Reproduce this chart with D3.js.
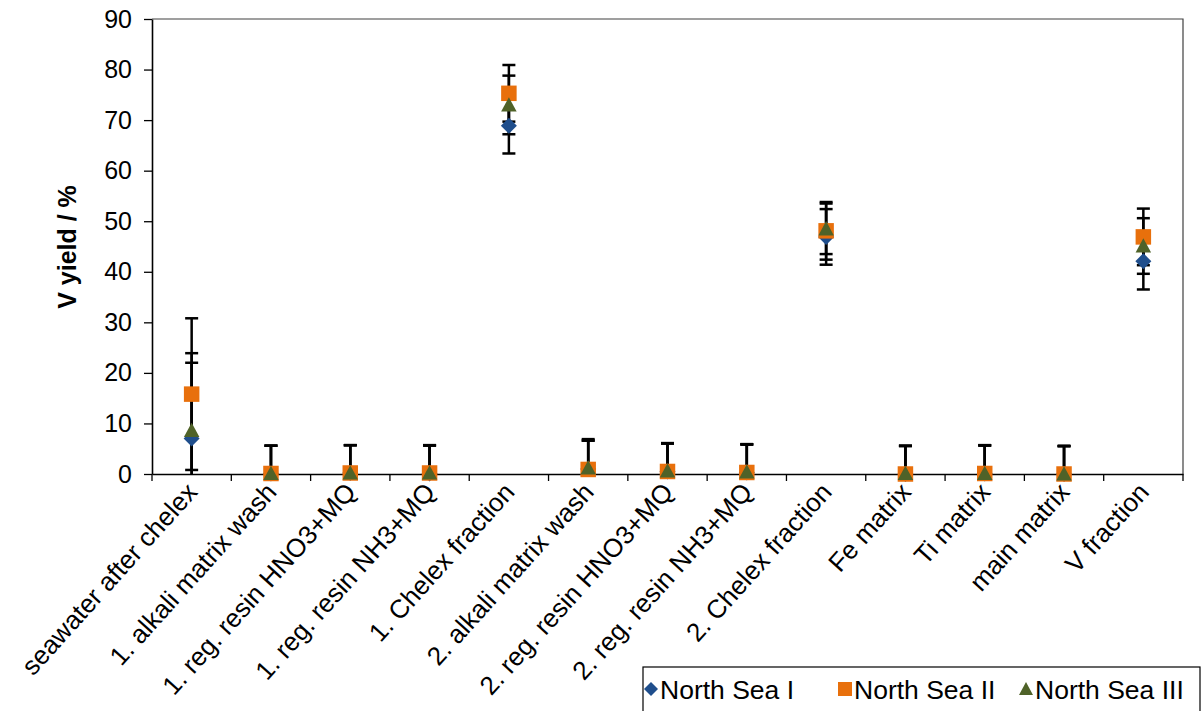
<!DOCTYPE html>
<html><head><meta charset="utf-8">
<script src="https://cdn.jsdelivr.net/npm/d3@7"></script>
<style>
html,body{margin:0;padding:0;background:#fff;}
svg{display:block;font-family:"Liberation Sans",Arial,sans-serif;}
</style></head>
<body>
<svg id="chart" width="1203" height="711"></svg>
<script>
const categories = ["seawater after chelex","1. alkali matrix wash","1. reg. resin HNO3+MQ","1. reg. resin NH3+MQ","1. Chelex fraction","2. alkali matrix wash","2. reg. resin HNO3+MQ","2. reg. resin NH3+MQ","2. Chelex fraction","Fe matrix","Ti matrix","main matrix","V fraction"];
const seriesNames = ["North Sea I","North Sea II","North Sea III"];
const northSeaI   = [7.0, 0.1, 0.2, 0.1, 68.9, 1.0, 0.5, 0.3, 46.9, 0.0, 0.1, 0.0, 42.1];
const northSeaIErr= [15.0, 5.5, 5.5, 5.5, 5.5, 5.6, 5.5, 5.5, 5.5, 5.5, 5.5, 5.5, 5.6];
const northSeaII  = [15.8, 0.1, 0.2, 0.2, 75.3, 0.9, 0.5, 0.3, 48.1, 0.0, 0.1, 0.0, 46.9];
const northSeaIIErr=[15.0, 5.5, 5.5, 5.5, 5.6, 5.7, 5.6, 5.6, 5.7, 5.6, 5.6, 5.6, 5.6];
const northSeaIII = [8.6, 0.1, 0.2, 0.2, 73.0, 1.2, 0.6, 0.4, 48.5, 0.1, 0.1, 0.0, 45.1];
const northSeaIIIErr=[15.3, 5.5, 5.5, 5.5, 5.8, 5.7, 5.5, 5.5, 5.0, 5.5, 5.6, 5.5, 5.5];
const yTicks = [0,10,20,30,40,50,60,70,80,90];
const yTitle = "V yield / %";

const colors = ["#1f4e8c","#e8700c","#4f6228"];
const shapes = ["diamond","square","triangle"];
const values = [northSeaI, northSeaII, northSeaIII];
const errs = [northSeaIErr, northSeaIIErr, northSeaIIIErr];

const svg = d3.select("#chart");
const pL = 152, pR = 1183, pT = 19, pB = 474;
const x = d3.scaleBand().domain(categories).range([pL, pR]);
const y = d3.scaleLinear().domain([0, 90]).range([pB, pT]);

function shapePath(s, size){
  const h = size/2;
  if (s === "diamond") return `M0,${-h}L${h},0L0,${h}L${-h},0Z`;
  if (s === "square") return `M${-h},${-h}H${h}V${h}H${-h}Z`;
  return `M0,${-h}L${h},${h*0.85}L${-h},${h*0.85}Z`;
}

// plot border (top/right)
svg.append("path").attr("d", `M${pL},${pT}H${pR}V${pB}`)
  .attr("fill","none").attr("stroke","#404040").attr("stroke-width",1.2);

// y axis
const yAxis = svg.append("g").attr("transform", `translate(${pL},0)`)
  .call(d3.axisLeft(y).tickValues(yTicks).tickSize(8).tickPadding(12).tickSizeOuter(0));
yAxis.select(".domain").attr("stroke","#000").attr("stroke-width",1.6);
yAxis.selectAll(".tick line").attr("stroke","#000").attr("stroke-width",1.3);
yAxis.selectAll(".tick text").attr("font-size",25).attr("fill","#000").attr("font-family","Liberation Sans, Arial, sans-serif");

// x axis
const xAxis = svg.append("g").attr("transform", `translate(0,${pB})`)
  .call(d3.axisBottom(x).tickSize(0).tickSizeOuter(0).tickFormat(""));
xAxis.select(".domain").attr("stroke","#000").attr("stroke-width",1.6);
xAxis.selectAll(".tick").remove();
const boundaries = categories.map(c => x(c)).concat([x.range()[1]]);
xAxis.selectAll("line.bt").data(boundaries).join("line").attr("class","bt")
  .attr("x1", d => d).attr("x2", d => d).attr("y1", 0).attr("y2", 7)
  .attr("stroke","#000").attr("stroke-width",1.3);
xAxis.selectAll("text.cl").data(categories).join("text").attr("class","cl")
  .attr("transform", d => `translate(${x(d) + x.bandwidth()/2 + 7},${19}) rotate(-48)`)
  .attr("text-anchor","end")
  .attr("font-size",26).attr("fill","#000").text(d => d);

// y title
svg.append("text").attr("transform", `translate(76,247) rotate(-90)`)
  .attr("text-anchor","middle").attr("font-size",25).attr("font-weight","bold")
  .attr("fill","#000").text(yTitle);

// error bars
svg.append("clipPath").attr("id","pc").append("rect")
  .attr("x", pL-20).attr("y", pT-10).attr("width", pR-pL+40).attr("height", pB-pT+10);
const eb = svg.append("g").attr("clip-path","url(#pc)");
values.forEach((vals, si) => {
  const g = eb.append("g");
  const data = categories.map((c,i) => ({c, v: vals[i], e: errs[si][i]}));
  const cx = d => x(d.c) + x.bandwidth()/2;
  g.selectAll("line.stem").data(data).join("line").attr("class","stem")
    .attr("x1", cx).attr("x2", cx)
    .attr("y1", d => y(d.v + d.e)).attr("y2", d => y(Math.max(d.v - d.e, 0)))
    .attr("stroke","#000").attr("stroke-width",2.5);
  g.selectAll("line.capt").data(data).join("line").attr("class","capt")
    .attr("x1", d => cx(d)-6.5).attr("x2", d => cx(d)+6.5)
    .attr("y1", d => y(d.v + d.e)).attr("y2", d => y(d.v + d.e))
    .attr("stroke","#000").attr("stroke-width",2.5);
  g.selectAll("line.capb").data(data.filter(d => d.v - d.e >= 0)).join("line").attr("class","capb")
    .attr("x1", d => cx(d)-6.5).attr("x2", d => cx(d)+6.5)
    .attr("y1", d => y(d.v - d.e)).attr("y2", d => y(d.v - d.e))
    .attr("stroke","#000").attr("stroke-width",2.5);
});

// markers
values.forEach((vals, si) => {
  svg.append("g").selectAll("path").data(categories.map((c,i)=>({c, v: vals[i]}))).join("path")
    .attr("transform", d => `translate(${x(d.c)+x.bandwidth()/2},${y(d.v)})`)
    .attr("d", shapePath(shapes[si], si===0 ? 16 : 15.5))
    .attr("fill", colors[si]);
});

// legend
const lg = svg.append("g");
lg.append("rect").attr("x",643).attr("y",667).attr("width",557).attr("height",60)
  .attr("fill","#fff").attr("stroke","#000").attr("stroke-width",1.2);
const legX = [651, 845, 1026];
seriesNames.forEach((n, i) => {
  lg.append("path").attr("transform", `translate(${legX[i]},689)`)
    .attr("d", shapePath(shapes[i], 14)).attr("fill", colors[i]);
  lg.append("text").attr("x", legX[i] + 9).attr("y", 689).attr("dy","0.36em")
    .attr("font-size",26.5).attr("fill","#000").text(n);
});
</script>
</body></html>
